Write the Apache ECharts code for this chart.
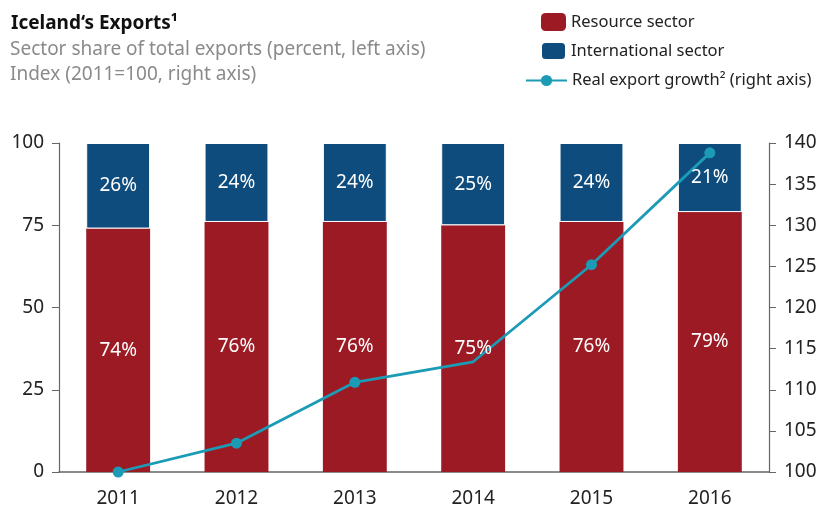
<!DOCTYPE html>
<html><head><meta charset="utf-8">
<script src="https://cdn.jsdelivr.net/npm/echarts@6/dist/echarts.min.js"></script>
<style>html,body{margin:0;padding:0;background:#fff}#c{width:822px;height:510px}</style>
</head><body><div id="c"></div>
<script>
const years = ['2011','2012','2013','2014','2015','2016'];
const resource = [74, 76, 76, 75, 76, 79];
const international = [26, 24, 24, 25, 24, 21];
const growth = [100, 103.5, 110.9, 113.4, 125.2, 138.8];
const leftTicks = [0, 25, 50, 75, 100];
const rightTicks = [100, 105, 110, 115, 120, 125, 130, 135, 140];

const FONT = 'Noto Sans';
const RED = '#9c1a24', BLUE = '#0e4c7d', TEAL = '#1c9bb6';
const chart = echarts.init(document.getElementById('c'), null, {renderer: 'canvas'});
const pctLabel = {show: true, position: 'inside', color: '#fff', fontFamily: FONT, fontSize: 19, formatter: p => p.value + '%'};

chart.setOption({
  animation: false,
  textStyle: {fontFamily: FONT},
  grid: {left: 59, right: 53, top: 143, bottom: 38},
  graphic: [
    {type: 'text', left: 11, top: 14, style: {text: 'Iceland‘s Exports¹', font: 'bold 19px "Noto Sans"', fill: '#111'}},
    {type: 'text', left: 10, top: 40, style: {text: 'Sector share of total exports (percent, left axis)', font: '19px "Noto Sans"', fill: '#8a8a8a'}},
    {type: 'text', left: 10, top: 65, style: {text: 'Index (2011=100, right axis)', font: '19px "Noto Sans"', fill: '#8a8a8a'}}
  ],
  legend: [
    {data: ['Resource sector', 'International sector'], orient: 'vertical', left: 540, top: 13, padding: 0,
     itemWidth: 25, itemHeight: 18, itemGap: 10, textStyle: {fontFamily: FONT, fontSize: 16.5, color: '#222'}},
    {data: ['Real export growth² (right axis)'], orient: 'vertical', left: 525, top: 72, padding: 0,
     itemWidth: 41, itemHeight: 14, textStyle: {fontFamily: FONT, fontSize: 16.5, color: '#222'}}
  ],
  xAxis: {
    type: 'category', data: years,
    axisLine: {lineStyle: {color: '#666', width: 1.5}},
    axisTick: {show: false},
    axisLabel: {color: '#222', fontSize: 19, margin: 17, fontFamily: FONT}
  },
  yAxis: [
    {type: 'value', min: 0, max: 100, interval: 25, position: 'left',
     axisLine: {show: true, lineStyle: {color: '#666', width: 1.2}},
     axisTick: {show: true, length: 7, lineStyle: {color: '#666'}},
     splitLine: {show: false},
     axisLabel: {color: '#222', fontSize: 19, margin: 15, fontFamily: FONT,
       formatter: v => leftTicks.includes(v) ? String(v) : ''}},
    {type: 'value', min: 100, max: 140, interval: 5, position: 'right',
     axisLine: {show: true, lineStyle: {color: '#666', width: 1.2}},
     axisTick: {show: true, length: 7, lineStyle: {color: '#666'}},
     splitLine: {show: false},
     axisLabel: {color: '#222', fontSize: 19, margin: 15, fontFamily: FONT,
       formatter: v => rightTicks.includes(v) ? String(v) : ''}}
  ],
  series: [
    {name: 'Resource sector', type: 'bar', stack: 'a', data: resource, barWidth: '54%', barGap: '-100%',
     itemStyle: {color: RED}, z: 2},
    {name: 'International sector', type: 'bar', stack: 'a', data: international, barWidth: '54%',
     itemStyle: {color: BLUE, borderColor: '#fff', borderWidth: 1}, z: 2},
    {name: 'Real export growth² (right axis)', type: 'line', yAxisIndex: 1,
     data: growth.map((v, i) => i === 3 ? {value: v, symbol: 'none'} : v),
     symbol: 'circle', symbolSize: 11, lineStyle: {color: TEAL, width: 2.8}, itemStyle: {color: TEAL}, z: 3},
    {name: 'lblRes', type: 'bar', stack: 'b', data: resource, barWidth: '54%', silent: true,
     itemStyle: {color: 'rgba(0,0,0,0)'}, label: pctLabel, z: 4},
    {name: 'lblInt', type: 'bar', stack: 'b', data: international, barWidth: '54%', silent: true,
     itemStyle: {color: 'rgba(0,0,0,0)'}, label: pctLabel, z: 4}
  ]
});
</script></body></html>
